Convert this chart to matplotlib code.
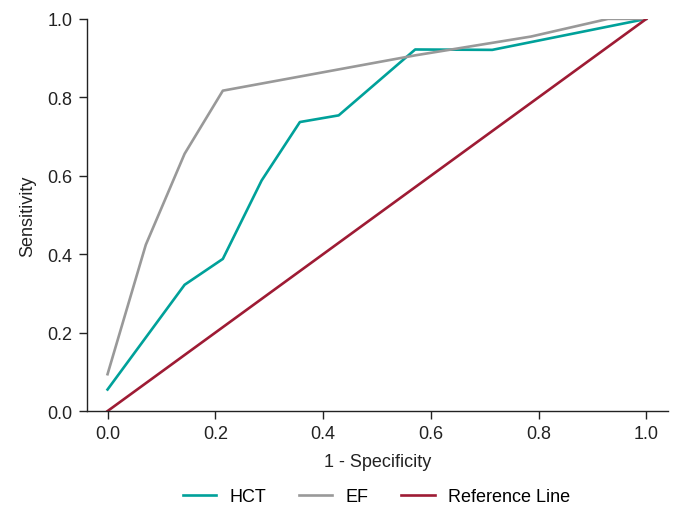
import matplotlib

matplotlib.use("Agg")
import matplotlib.pyplot as plt

# ROC curve points
hct_fpr = [0.0, 0.143, 0.214, 0.286, 0.357, 0.429, 0.571, 0.714, 1.0]
hct_tpr = [0.055, 0.322, 0.388, 0.588, 0.737, 0.754, 0.922, 0.921, 1.0]

ef_fpr = [0.0, 0.071, 0.143, 0.214, 0.571, 0.786, 0.929, 1.0]
ef_tpr = [0.094, 0.424, 0.656, 0.817, 0.907, 0.955, 1.0, 1.0]

ref_fpr = [0.0, 1.0]
ref_tpr = [0.0, 1.0]

ticks = [0.0, 0.2, 0.4, 0.6, 0.8, 1.0]

plt.rcParams["font.family"] = ["Liberation Sans", "DejaVu Sans"]
fs = 13

fig = plt.figure(figsize=(6.76, 5.10), dpi=100)
ax = fig.add_axes([0.128, 0.192, 0.860, 0.769])

ax.plot(hct_fpr, hct_tpr, color="#00a19a", lw=1.9, label="HCT")
ax.plot(ef_fpr, ef_tpr, color="#999999", lw=1.9, label="EF")
ax.plot(ref_fpr, ref_tpr, color="#9e1b34", lw=1.9, label="Reference Line")

ax.set_xlim(-0.039, 1.04)
ax.set_ylim(0.0, 1.0)
ax.set_xticks(ticks)
ax.set_yticks(ticks)
ax.set_xticklabels([f"{t:.1f}" for t in ticks])
ax.set_yticklabels([f"{t:.1f}" for t in ticks])
ax.tick_params(direction="out", length=6, width=1, labelsize=fs,
               colors="#222222", pad=4)
for side in ("top", "right"):
    ax.spines[side].set_visible(False)
for side in ("left", "bottom"):
    ax.spines[side].set_linewidth(1)
    ax.spines[side].set_color("#222222")

ax.set_xlabel("1 - Specificity", fontsize=fs, color="#222222", labelpad=8)
ax.set_ylabel("Sensitivity", fontsize=fs, color="#222222", labelpad=8)

fig.legend(loc="center", bbox_to_anchor=(0.557, 0.024), ncol=3, frameon=False,
           fontsize=fs, handlelength=1.85, columnspacing=1.8, handletextpad=0.75)

fig.savefig("out.png", dpi=100)
